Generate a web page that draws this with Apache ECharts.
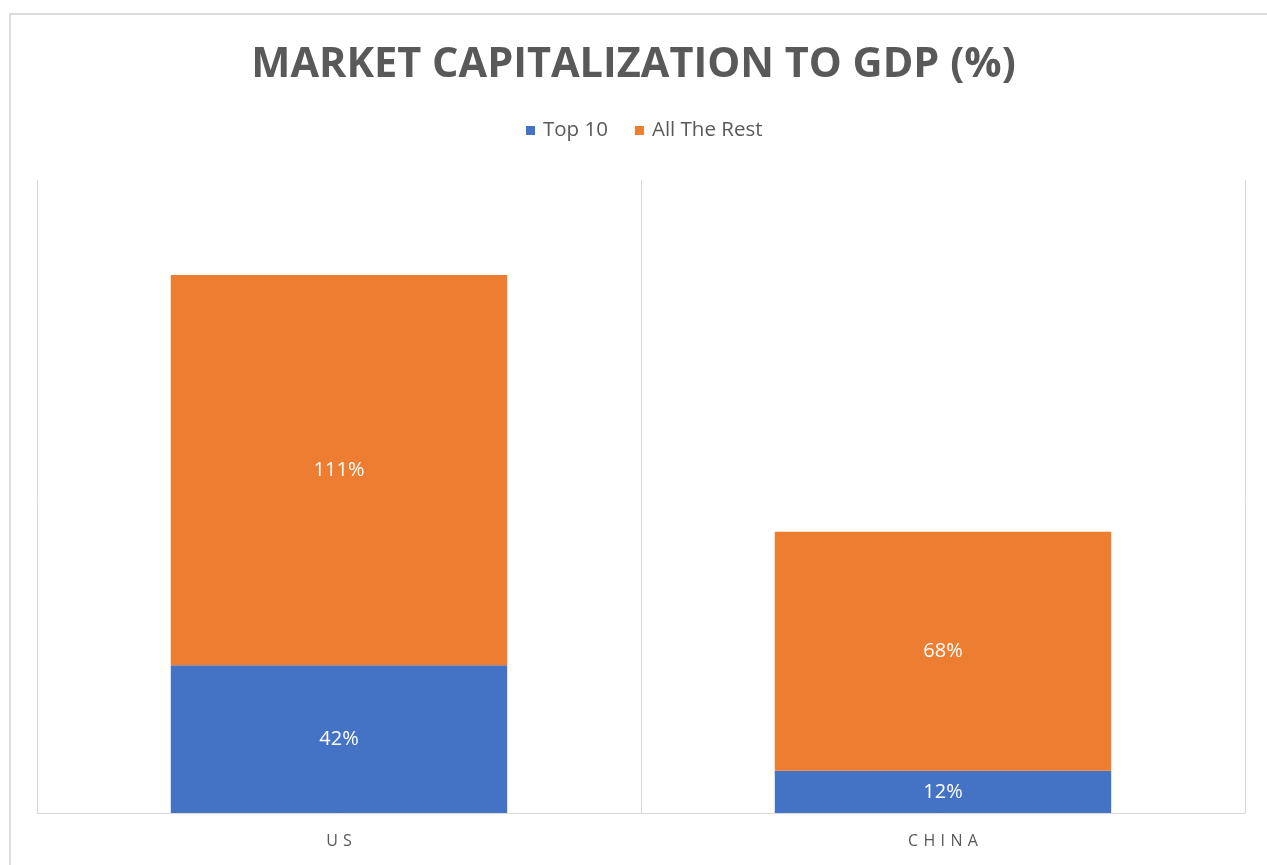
<!DOCTYPE html>
<html>
<head>
<meta charset="utf-8">
<title>Market Capitalization to GDP</title>
<script src="https://cdn.jsdelivr.net/npm/echarts@6/dist/echarts.min.js"></script>
<style>
  html, body { margin: 0; padding: 0; background: #ffffff; }
  #chart { width: 1267px; height: 865px; }
</style>
</head>
<body>
<div id="chart"></div>
<script>
// Market capitalization as a share of GDP, split into the ten largest companies and the rest
const categories = ['US', 'CHINA'];
const top10 = [42, 12];
const allTheRest = [111, 68];
const seriesNames = ['Top 10', 'All The Rest'];

const FONT = '"Open Sans", sans-serif';
const TEXT_GRAY = '#595959';

// spread the letters of the category names apart
const spaced = s => s.split('').join('\u2009\u2009');

const chart = echarts.init(document.getElementById('chart'), null, { renderer: 'canvas' });

const valueLabel = {
  show: true,
  position: 'inside',
  color: '#ffffff',
  fontFamily: FONT,
  fontSize: 20,
  formatter: p => p.value + '%'
};

chart.setOption({
  backgroundColor: '#ffffff',
  animation: false,
  title: {
    text: 'MARKET CAPITALIZATION TO GDP (%)',
    left: 'center',
    top: 39,
    textStyle: {
      fontFamily: FONT,
      fontWeight: 'bold',
      fontSize: 41.5,
      color: TEXT_GRAY
    }
  },
  legend: {
    data: seriesNames,
    left: 521,
    top: 115,
    itemWidth: 9,
    itemHeight: 9,
    itemGap: 27,
    icon: 'rect',
    textStyle: { fontFamily: FONT, fontSize: 20.5, color: TEXT_GRAY, padding: [0, 0, 0, 3] }
  },
  graphic: [{
    type: 'rect',
    shape: { x: 10, y: 14, width: 1300, height: 900 },
    style: { fill: 'none', stroke: '#dcdcdc', lineWidth: 2 },
    silent: true
  }],
  grid: { left: 37, right: 22, top: 180, bottom: 52, containLabel: false },
  xAxis: {
    type: 'category',
    data: categories,
    axisLine: { show: true, lineStyle: { color: '#d9d9d9', width: 1 } },
    axisTick: { show: false },
    splitLine: { show: true, lineStyle: { color: '#d9d9d9', width: 1 } },
    axisLabel: {
      fontFamily: FONT,
      fontSize: 16,
      color: TEXT_GRAY,
      margin: 20,
      formatter: v => spaced(v)
    }
  },
  yAxis: {
    type: 'value',
    min: 0,
    max: 180,
    show: false,
    splitLine: { show: false }
  },
  series: [
    {
      name: seriesNames[0],
      type: 'bar',
      stack: 'total',
      data: top10,
      barCategoryGap: '44.3%',
      itemStyle: { color: '#4472C4' },
      label: valueLabel
    },
    {
      name: seriesNames[1],
      type: 'bar',
      stack: 'total',
      data: allTheRest,
      barCategoryGap: '44.3%',
      itemStyle: { color: '#ED7D31' },
      label: valueLabel
    }
  ]
});
</script>
</body>
</html>
